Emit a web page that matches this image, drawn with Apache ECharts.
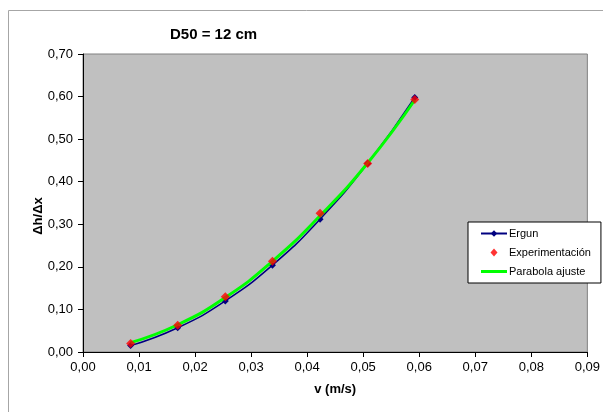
<!DOCTYPE html>
<html lang="es">
<head>
<meta charset="utf-8" />
<title>D50 = 12 cm</title>
<script src="https://cdn.jsdelivr.net/npm/echarts@6/dist/echarts.min.js"></script>
<style>
  html, body { margin: 0; padding: 0; background: #fff; }
  #chart { width: 603px; height: 412px; }
</style>
</head>
<body>
<div id="chart"></div>
<script type="text/javascript">
// velocidad (m/s)
var vel = [0.0085, 0.0169, 0.0254, 0.0338, 0.0423, 0.0508, 0.0592];
// gradiente dh/dx
var ergun = [0.015, 0.057, 0.120, 0.204, 0.312, 0.443, 0.598];
var experim = [0.020, 0.063, 0.130, 0.213, 0.326, 0.443, 0.593];
var parabola = [0.022, 0.064, 0.128, 0.213, 0.320, 0.444, 0.592];

function pairs(xs, ys) {
    return xs.map(function (x, i) { return [x, ys[i]]; });
}
function coma(v) {
    return v.toFixed(2).replace('.', ',');
}

var chart = echarts.init(document.getElementById('chart'));
var fontFam = '"Liberation Sans", Arial, sans-serif';

// legend icons drawn in a 26x8 box (degenerate points keep the box size)
var iconDiamond = 'path://M0,0L0,0M26,8L26,8M13,0L16.5,4L13,8L9.5,4Z';
var iconLine = 'path://M0,0L0,0M26,8L26,8M0,2.5L26,2.5L26,5.5L0,5.5Z';

var option = {
    animation: false,
    textStyle: { fontFamily: fontFam },
    title: {
        text: 'D50 = 12 cm',
        left: 170,
        top: 27,
        padding: 0,
        textStyle: { fontSize: 15, fontWeight: 'bold', color: '#000', fontFamily: fontFam }
    },
    graphic: [{
        type: 'rect',
        shape: { x: 8.5, y: 10.5, width: 620, height: 420 },
        style: { fill: 'none', stroke: '#a6a6a6', lineWidth: 1 },
        silent: true,
        z: -10
    }],
    legend: {
        orient: 'vertical',
        left: 468,
        top: 222,
        padding: [6, 10, 6, 12],
        itemGap: 8,
        itemWidth: 26,
        itemHeight: 8,
        backgroundColor: '#fff',
        borderColor: '#000',
        borderWidth: 1,
        borderRadius: 0,
        textStyle: { fontSize: 11, color: '#000', fontFamily: fontFam, padding: [0, 0, 0, -3] },
        data: [
            { name: 'Ergun' },
            { name: 'Experimentación', icon: iconDiamond },
            { name: 'Parabola ajuste', icon: iconLine }
        ]
    },
    grid: {
        left: 83,
        right: 14,
        top: 54,
        bottom: 60,
        show: true,
        backgroundColor: '#c0c0c0',
        borderColor: '#808080',
        borderWidth: 1
    },
    xAxis: {
        type: 'value',
        min: 0,
        max: 0.09,
        interval: 0.01,
        name: 'v (m/s)',
        nameLocation: 'middle',
        nameGap: 31,
        nameMoveOverlap: false,
        nameTextStyle: { fontSize: 13, fontWeight: 'bold', color: '#000' },
        axisLine: { lineStyle: { color: '#000', width: 1 } },
        axisTick: { show: true, length: 5, lineStyle: { color: '#000' } },
        axisLabel: { fontSize: 13, color: '#000', margin: 9, formatter: coma },
        splitLine: { show: false }
    },
    yAxis: {
        type: 'value',
        min: 0,
        max: 0.7,
        interval: 0.1,
        name: 'Δh/Δx',
        nameLocation: 'middle',
        nameGap: 38,
        nameMoveOverlap: false,
        nameRotate: 90,
        nameTextStyle: { fontSize: 13, fontWeight: 'bold', color: '#000', padding: [0, 26, 0, 0] },
        axisLine: { show: true, lineStyle: { color: '#000', width: 1 } },
        axisTick: { show: true, length: 5, lineStyle: { color: '#000' } },
        axisLabel: { fontSize: 13, color: '#000', margin: 10, formatter: coma },
        splitLine: { show: false }
    },
    series: [
        {
            name: 'Ergun',
            type: 'line',
            smooth: true,
            data: pairs(vel, ergun),
            symbol: 'diamond',
            symbolSize: 7,
            itemStyle: { color: '#000080' },
            lineStyle: { color: '#000080', width: 1.5 },
            z: 2
        },
        {
            name: 'Experimentación',
            type: 'scatter',
            data: pairs(vel, experim),
            symbol: 'diamond',
            symbolSize: 9,
            itemStyle: { color: '#ff0000' },
            z: 4
        },
        {
            name: 'Parabola ajuste',
            type: 'line',
            smooth: true,
            data: pairs(vel, parabola),
            symbol: 'none',
            itemStyle: { color: '#00ff00' },
            lineStyle: { color: '#00ff00', width: 3 },
            z: 3
        }
    ]
};

chart.setOption(option);
</script>
</body>
</html>
